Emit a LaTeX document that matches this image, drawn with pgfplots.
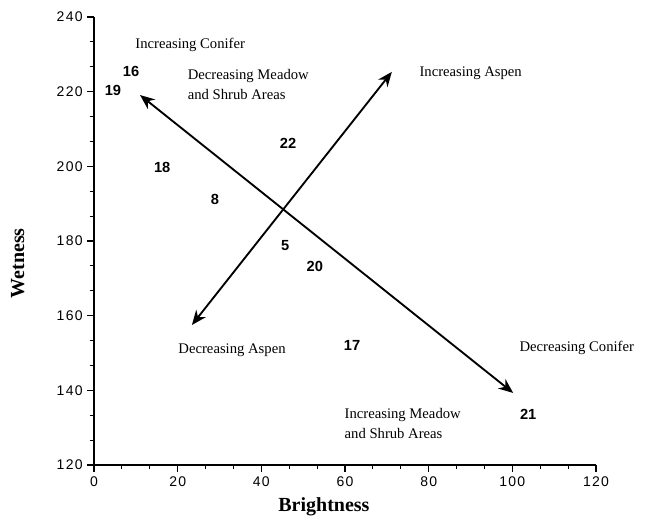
\documentclass[border=0pt]{standalone}
\usepackage{fontspec}
\setmainfont{Liberation Serif}
\newfontfamily\tickfont[LetterSpace=9]{Liberation Sans}
\newfontfamily\numfont{Liberation Sans}
\usepackage{pgfplots}
\pgfplotsset{compat=1.18}
\usetikzlibrary{arrows.meta}

\begin{document}
\begin{tikzpicture}
\begin{axis}[
  at={(0,0)}, anchor=south west,
  scale only axis, width=376.5pt, height=336pt,
  xmin=0, xmax=120, ymin=120, ymax=240,
  axis lines*=left,
  axis line style={line width=0.9pt, black},
  xtick={0,20,...,120}, ytick={120,140,...,240},
  minor tick num=2,
  tick align=outside,
  major tick length=5pt, minor tick length=3pt,
  tick style={line width=0.9pt, black},
  /pgf/number format/assume math mode=true,
  ticklabel style={font=\tickfont\fontsize{10.5}{12}\selectfont},
  xlabel={Brightness}, ylabel={Wetness},
  label style={font=\bfseries\fontsize{15}{18}\selectfont},
  xlabel style={at={(axis description cs:0.458,0)}, anchor=center, yshift=-31pt},
  ylabel style={at={(axis description cs:-0.152,0.45)}, anchor=center},
  clip=false,
]
% arrows
\addplot[line width=1.4pt, {Stealth[length=11pt,width=9pt]}-{Stealth[length=11pt,width=9pt]}]
  coordinates {(11.0,219.1) (100.2,139.3)};
\addplot[line width=1.4pt, {Stealth[length=11pt,width=9pt]}-{Stealth[length=11pt,width=9pt]}]
  coordinates {(23.4,157.5) (71.2,225.3)};
% numbered points
\addplot[draw=none, mark=none, nodes near coords, point meta=explicit symbolic,
  every node near coord/.append style={anchor=center, inner sep=0pt,
    font=\numfont\bfseries\fontsize{11}{13}\selectfont}]
  table[meta=lab] {
x y lab
8.85 225.3 16
4.54 220.4 19
46.4 206.2 22
16.3 199.8 18
28.9 191.0 8
45.7 178.9 5
52.8 173.3 20
61.7 152.1 17
103.8 133.6 21
};
% annotations
\node[font=\fontsize{11}{13}\selectfont] at (axis cs:23.0,232.5) {Increasing Conifer};
\node[font=\fontsize{11}{13}\selectfont, anchor=west, align=left] at (axis cs:21.3,221.8) {Decreasing Meadow\\[2pt]and Shrub Areas};
\node[font=\fontsize{11}{13}\selectfont, anchor=west] at (axis cs:76.7,225.0) {Increasing Aspen};
\node[font=\fontsize{11}{13}\selectfont] at (axis cs:33.0,150.8) {Decreasing Aspen};
\node[font=\fontsize{11}{13}\selectfont, anchor=west] at (axis cs:100.6,151.3) {Decreasing Conifer};
\node[font=\fontsize{11}{13}\selectfont, anchor=west, align=left] at (axis cs:58.8,131.0) {Increasing Meadow\\[2pt]and Shrub Areas};
\end{axis}
\pgfresetboundingbox
\path (-70.5pt,-42pt) rectangle (418.5pt,348.75pt);
\end{tikzpicture}
\end{document}
